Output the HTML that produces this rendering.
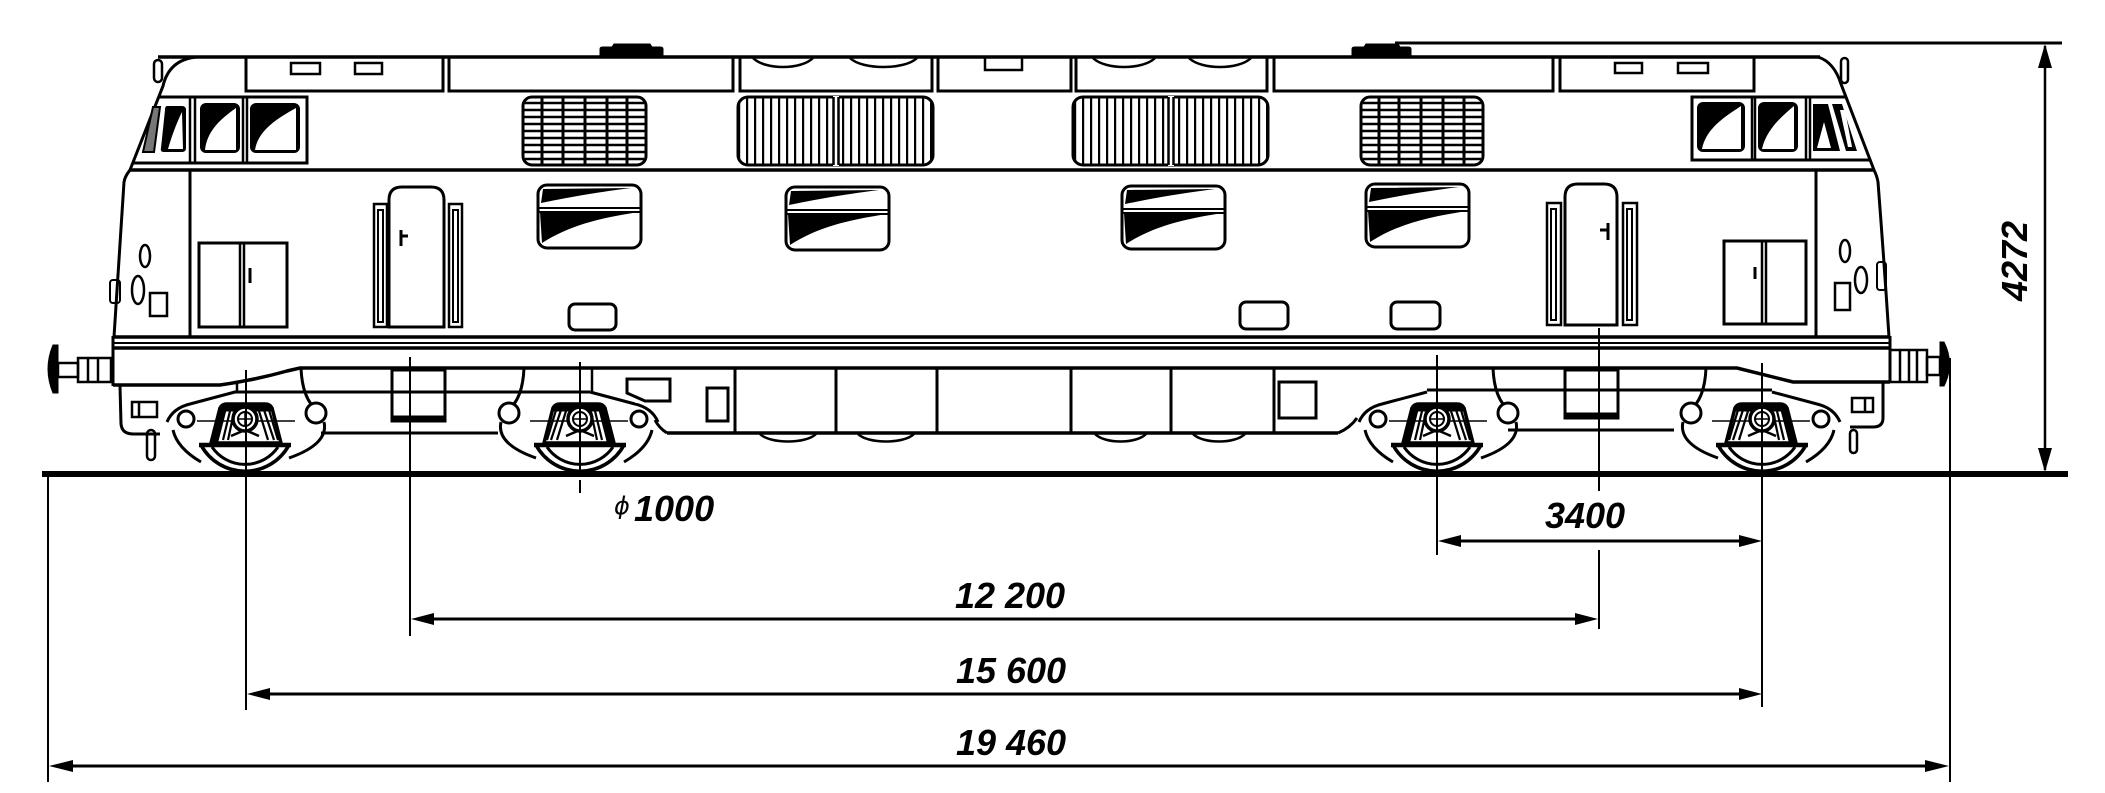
<!DOCTYPE html>
<html><head><meta charset="utf-8"><style>
html,body{margin:0;padding:0;background:#fff;}
svg{display:block}
.t{font-family:"Liberation Sans",Arial,sans-serif;font-weight:bold;font-style:italic;font-size:36px;fill:#000;}
</style></head><body>
<svg width="2105" height="793" viewBox="0 0 2105 793" xmlns="http://www.w3.org/2000/svg" xmlns:xlink="http://www.w3.org/1999/xlink">
<defs>
<pattern id="vb" x="2" y="0" width="8" height="20" patternUnits="userSpaceOnUse"><rect x="0" y="0" width="2.2" height="20" fill="#000"/></pattern>
<g id="wh" fill="none" stroke="#000" stroke-width="3">
 <path d="M-44,445 A50,50 0 0 0 44,445" stroke-width="3.5"/>
 <path d="M-33,447 A40,40 0 0 0 33,447" stroke-width="3"/>
 <line x1="-46" y1="445" x2="46" y2="445" stroke-width="4.5"/>
 <path d="M-34,443 L-25,408 Q-23,404 -18,404 L20,404 Q25,404 27,408 L36,443 Z" fill="#fff" stroke-width="3.5"/>
 <path d="M-24,410 L-21,405 L23,405 L26,410 Z" fill="#000"/>
 <path d="M-33,441 L-25,410 L-19,410 L-27,441 Z" fill="#000" stroke-width="1"/>
 <path d="M-22,440 L-15,411 M-17,440 L-11,412 M14,411 L23,440 M19,410 L29,440 M24,410 L33,440" stroke-width="2.2"/>
 <path d="M-14,436 L0,430 L14,436" stroke-width="2.5"/>
 <circle cx="0" cy="419" r="12" fill="#fff" stroke-width="3.5"/>
 <circle cx="0" cy="419" r="7" stroke-width="2"/>
 <path d="M-7,419 L7,419 M0,412 L0,426" stroke-width="1.5"/>
 <path d="M-48,421 L-13,421 M13,421 L50,421" stroke-width="1.5"/>
 <circle cx="-59" cy="419" r="8"/>
 <path d="M-78,422 Q-72,408 -55,404 L-10,392"/>
 <path d="M-72,430 Q-68,448 -44,462"/>
 <path d="M56,368 Q57,392 66,404"/>
 <circle cx="71" cy="413" r="10"/>
 <path d="M79,422 Q84,444 44,458"/>
</g>
</defs>
<rect width="2105" height="793" fill="#fff"/>

<g fill="none" stroke="#000" stroke-width="3">
<!-- roof -->
<line x1="158" y1="57" x2="1820" y2="57" stroke-width="3.5"/>
<path d="M600,56 L600,49 Q600,47 603,47 L660,47 Q663,47 663,49 L663,56 Z M612,47 L614,44 L650,44 L652,47 Z" fill="#000" stroke-width="1"/>
<path d="M1352,56 L1352,49 Q1352,47 1355,47 L1408,47 Q1411,47 1411,49 L1411,56 Z M1364,47 L1366,44 L1398,44 L1400,47 Z" fill="#000" stroke-width="1"/>
<!-- roof panels -->
<rect x="246" y="57" width="197" height="34"/>
<rect x="449" y="57" width="284" height="34"/>
<rect x="740" y="57" width="192" height="34"/>
<rect x="938" y="57" width="133" height="34"/>
<rect x="1076" y="57" width="191" height="34"/>
<rect x="1274" y="57" width="279" height="34"/>
<rect x="1560" y="57" width="194" height="34"/>
<rect x="291" y="63" width="29" height="11" stroke-width="2.5"/>
<rect x="355" y="63" width="27" height="11" stroke-width="2.5"/>
<rect x="1615" y="63" width="27" height="10" stroke-width="2.5"/>
<rect x="1678" y="63" width="30" height="10" stroke-width="2.5"/>
<rect x="985" y="57" width="37" height="13" stroke-width="2.5"/>
<path d="M753,58 C765,70 801,70 813,58 M850,58 C862,70 905,70 917,58 M1093,58 C1105,70 1143,70 1155,58 M1189,58 C1201,70 1239,70 1251,58" stroke-width="2.5"/>

<!-- cab ends -->
<rect x="154" y="60" width="8" height="22" rx="4" stroke-width="2.5"/>
<path d="M196,57 Q169,60 163,86 L130,170 Q125,176 124,182 Q119,260 114,337"/>
<rect x="1841" y="58" width="7" height="25" rx="3.5" stroke-width="2.5"/>
<path d="M1818,57 Q1834,62 1841,84 L1874,170 Q1877,176 1878,182 Q1884,260 1889,337"/>

<!-- left cab window band -->
<path d="M159,97 L307,97 L307,163 L133,163"/>
<path d="M190,97 L190,163 M195,97 L195,163 M243,97 L243,163 M247,97 L247,163" stroke-width="2.5"/>
<rect x="200" y="103" width="40" height="50" rx="6" fill="#000" stroke="none"/>
<path d="M205,150 C207,130 222,118 236,108 L236,150 Z" fill="#fff" stroke="none"/>
<rect x="250" y="103" width="50" height="50" rx="6" fill="#000" stroke="none"/>
<path d="M255,150 C258,130 278,118 296,108 L296,150 Z" fill="#fff" stroke="none"/>
<path d="M153,107 L160,107 L154,152 L143,152 Z" fill="#777" stroke-width="2"/>
<path d="M167,106 L182,106 Q186,106 186,110 L186,148 Q186,152 182,152 L164,152 Q160,152 161,148 L165,110 Q165,106 167,106 Z" fill="#000" stroke="none"/>
<path d="M168,149 C172,135 177,122 182,112 L183,149 Z" fill="#fff" stroke="none"/>

<!-- right cab window band -->
<path d="M1846,97 L1692,97 L1692,160 L1870,160"/>
<path d="M1752,97 L1752,160 M1755,97 L1755,160 M1806,97 L1806,160 M1810,97 L1810,160" stroke-width="2.5"/>
<rect x="1697" y="102" width="48" height="50" rx="6" fill="#000" stroke="none"/>
<path d="M1702,149 C1706,128 1726,116 1741,106 L1741,149 Z" fill="#fff" stroke="none"/>
<rect x="1758" y="102" width="40" height="50" rx="6" fill="#000" stroke="none"/>
<path d="M1762,149 C1766,130 1782,116 1794,106 L1794,149 Z" fill="#fff" stroke="none"/>
<path d="M1813,104 L1828,104 L1840,151 L1813,151 Z" fill="#000" stroke="none"/>
<path d="M1817,148 L1824,122 L1831,148 Z" fill="#fff" stroke="none"/>
<path d="M1832,104 L1842,104 L1857,151 L1846,151 Z" fill="#000" stroke="none"/>
<path d="M1840,110 L1845,110 L1852,147 L1848,147 Z" fill="#fff" stroke="none"/>

<!-- grilles horizontal -->
<rect x="523" y="97" width="123" height="68" rx="9"/>
<path d="M525,103 L644,103 M524,110 L645,110 M524,117 L645,117 M524,124 L645,124 M524,131 L645,131 M524,138 L645,138 M524,145 L645,145 M524,152 L645,152 M525,159 L644,159" stroke-width="2.5"/>
<path d="M542,97 L542,165 M563,97 L563,165 M585,97 L585,165 M607,97 L607,165 M627,97 L627,165" stroke-width="3"/>
<rect x="1361" y="97" width="122" height="68" rx="9"/>
<path d="M1363,103 L1481,103 M1362,110 L1482,110 M1362,117 L1482,117 M1362,124 L1482,124 M1362,131 L1482,131 M1362,138 L1482,138 M1362,145 L1482,145 M1362,152 L1482,152 M1363,159 L1481,159" stroke-width="2.5"/>
<path d="M1379,97 L1379,165 M1399,97 L1399,165 M1421,97 L1421,165 M1443,97 L1443,165 M1464,97 L1464,165" stroke-width="3"/>
<!-- grilles vertical -->
<rect x="738" y="97" width="195" height="68" rx="10" fill="url(#vb)"/>
<rect x="833" y="96" width="6" height="70" fill="#fff" stroke="none"/>
<path d="M833.5,97 L833.5,165 M838.5,97 L838.5,165" stroke-width="2.5"/>
<rect x="1073" y="97" width="195" height="68" rx="10" fill="url(#vb)"/>
<rect x="1168" y="96" width="6" height="70" fill="#fff" stroke="none"/>
<path d="M1168.5,97 L1168.5,165 M1173.5,97 L1173.5,165" stroke-width="2.5"/>

<!-- belt line -->
<line x1="129" y1="170" x2="1874" y2="170" stroke-width="3.5"/>
<line x1="190" y1="170" x2="190" y2="337"/>
<line x1="1816" y1="170" x2="1816" y2="337"/>

<!-- side windows -->
<g id="sw">
<rect x="538" y="185" width="103" height="63" rx="9"/>
<path d="M543,189 L631,188 C600,192 575,196 541,203 Z" fill="#000" stroke="none"/>
<path d="M540,212 L639,212 C600,218 570,225 542,243 Z" fill="#000" stroke="none"/>
<path d="M538,208 L641,208 M538,212 L641,212" stroke-width="2"/>
</g>
<use xlink:href="#sw" transform="translate(248,2)"/>
<use xlink:href="#sw" transform="translate(584,1)"/>
<use xlink:href="#sw" transform="translate(828,-1)"/>

<!-- small rounded rects -->
<rect x="569" y="304" width="47" height="26" rx="6"/>
<rect x="1240" y="302" width="48" height="27" rx="6"/>
<rect x="1391" y="302" width="49" height="27" rx="6"/>

<!-- left door & panel -->
<path d="M389,327 L389,200 Q389,187 402,187 L431,187 Q444,187 444,200 L444,327 Z"/>
<rect x="374" y="204" width="13" height="123" stroke-width="2.5"/>
<rect x="378" y="210" width="5" height="112" stroke-width="2"/>
<rect x="449" y="204" width="13" height="123" stroke-width="2.5"/>
<rect x="453" y="210" width="5" height="112" stroke-width="2"/>
<path d="M401,230 L401,246 M401,236 L408,236"/>
<rect x="199" y="243" width="88" height="84"/>
<path d="M240,243 L240,327 M244,243 L244,327" stroke-width="2.5"/>
<line x1="250" y1="268" x2="250" y2="283"/>
<!-- right door & panel -->
<path d="M1565,325 L1565,197 Q1565,184 1578,184 L1604,184 Q1617,184 1617,197 L1617,325 Z"/>
<rect x="1547" y="203" width="14" height="122" stroke-width="2.5"/>
<rect x="1551" y="209" width="5" height="111" stroke-width="2"/>
<rect x="1623" y="203" width="14" height="122" stroke-width="2.5"/>
<rect x="1627" y="209" width="5" height="111" stroke-width="2"/>
<path d="M1608,223 L1608,240 M1600,230 L1608,230"/>
<rect x="1724" y="241" width="82" height="83"/>
<path d="M1762,241 L1762,324 M1766,241 L1766,324" stroke-width="2.5"/>
<line x1="1755" y1="267" x2="1755" y2="279"/>

<!-- lamps -->
<ellipse cx="145" cy="256" rx="5" ry="11" stroke-width="2.5"/>
<ellipse cx="138" cy="290" rx="6" ry="14" stroke-width="2.5"/>
<rect x="150" y="293" width="17" height="23" stroke-width="2.5"/>
<rect x="110" y="280" width="10" height="23" rx="3" stroke-width="2"/>
<ellipse cx="1845" cy="251" rx="5" ry="11" stroke-width="2.5"/>
<ellipse cx="1861" cy="280" rx="6" ry="13" stroke-width="2.5"/>
<rect x="1835" y="283" width="15" height="27" stroke-width="2.5"/>
<rect x="1877" y="262" width="9" height="28" rx="3" stroke-width="2"/>

<!-- frame -->
<line x1="113" y1="337" x2="1890" y2="337" stroke-width="3.5"/>
<line x1="113" y1="343" x2="1890" y2="343" stroke-width="2"/>
<line x1="113" y1="348" x2="1890" y2="348" stroke-width="3.5"/>
<line x1="113" y1="336" x2="113" y2="386"/>
<line x1="1890" y1="336" x2="1890" y2="383"/>

<!-- buffers -->
<rect x="58" y="363" width="20" height="14" stroke-width="2.5"/>
<rect x="78" y="358" width="33" height="24" stroke-width="2.5"/>
<path d="M88,358 L88,382 M98,358 L98,382" stroke-width="2.5"/>
<path d="M58,345 L53,345 Q43,369 53,393 L58,393 Z" fill="#000" stroke-width="1"/>
<rect x="1890" y="350" width="37" height="32" stroke-width="2.5"/>
<path d="M1900,350 L1900,382 M1909,350 L1909,382 M1917,350 L1917,382" stroke-width="2.5"/>
<rect x="1927" y="357" width="13" height="18" stroke-width="2.5"/>
<path d="M1940,342 L1944,342 Q1955,364 1944,386 L1940,386 Z" fill="#000" stroke-width="1"/>

<!-- underframe -->
<path d="M113,385 L220,385 Q255,380 287,371 L300,368 L1737,368 L1793,382 L1890,382" stroke-width="3.5"/>
<path d="M120,386 L121,424 Q122,434 133,434 L160,434"/>
<rect x="147" y="430" width="8" height="30" rx="4" stroke-width="2.5"/>
<rect x="132" y="402" width="25" height="15" stroke-width="2.5"/>
<line x1="139" y1="402" x2="139" y2="417" stroke-width="2.5"/>
<path d="M1883,383 L1883,418 Q1883,427 1873,427 L1850,427"/>
<rect x="1850" y="430" width="7" height="23" rx="3.5" stroke-width="2.5"/>
<rect x="1852" y="398" width="21" height="14" stroke-width="2.5"/>
<line x1="1865" y1="398" x2="1865" y2="412" stroke-width="2.5"/>

<line x1="234" y1="392" x2="590" y2="392"/>
<line x1="1427" y1="390" x2="1772" y2="390"/>
<line x1="237" y1="383" x2="237" y2="392" stroke-width="2.5"/>
<line x1="592" y1="369" x2="592" y2="392" stroke-width="2.5"/>
<line x1="321" y1="433" x2="498" y2="433"/>
<line x1="1508" y1="430" x2="1674" y2="430"/>
<line x1="667" y1="433" x2="1338" y2="433" stroke-width="3.5"/>
<path d="M667,433 Q659,428 655,420"/>
<path d="M1338,433 Q1350,428 1357,418"/>
<path d="M735,368 L735,433 M836,368 L836,433 M937,368 L937,433 M1071,368 L1071,433 M1171,368 L1171,433 M1274,368 L1274,433"/>
<path d="M627,379 L670,379 L670,401 L645,401 L627,393 Z"/>
<rect x="707" y="388" width="21" height="33"/>
<rect x="1279" y="382" width="37" height="36"/>
<path d="M760,434 C770,444 806,444 816,434 M858,434 C868,444 904,444 914,434 M1095,434 C1105,444 1136,444 1146,434 M1193,434 C1203,444 1235,444 1245,434" stroke-width="2.5"/>
<rect x="392" y="370" width="53" height="51"/>
<line x1="392" y1="418" x2="445" y2="418" stroke-width="5"/>
<rect x="1565" y="370" width="53" height="48"/>
<line x1="1565" y1="415" x2="1618" y2="415" stroke-width="5"/>
</g>

<!-- wheels -->
<use xlink:href="#wh" transform="translate(245,0)"/>
<use xlink:href="#wh" transform="translate(580,0) scale(-1,1)"/>
<use xlink:href="#wh" transform="translate(1437,0)"/>
<use xlink:href="#wh" transform="translate(1762,0) scale(-1,1)"/>

<!-- ground & dimensions -->
<g stroke="#000" fill="none">
<line x1="42" y1="474" x2="2068" y2="474" stroke-width="6"/>
<line x1="1395" y1="43" x2="2062" y2="43" stroke-width="3"/>
<line x1="2045" y1="46" x2="2045" y2="470" stroke-width="2.5"/>
<g stroke-width="2">
<line x1="48" y1="474" x2="48" y2="782"/>
<line x1="246" y1="370" x2="246" y2="710"/>
<line x1="410" y1="357" x2="410" y2="636"/>
<line x1="580" y1="362" x2="580" y2="476"/>
<line x1="580" y1="480" x2="580" y2="493"/>
<line x1="1437" y1="355" x2="1437" y2="555"/>
<line x1="1599" y1="328" x2="1599" y2="491"/>
<line x1="1599" y1="550" x2="1599" y2="629"/>
<line x1="1762" y1="363" x2="1762" y2="707"/>
<line x1="1950" y1="358" x2="1950" y2="782"/>
</g>
<g stroke-width="3">
<line x1="1450" y1="541" x2="1750" y2="541"/>
<line x1="420" y1="619" x2="1590" y2="619"/>
<line x1="256" y1="694" x2="1752" y2="694"/>
<line x1="58" y1="766" x2="1940" y2="766"/>
</g>
</g>
<g fill="#000">
<polygon points="2045,44 2038,68 2052,68"/>
<polygon points="2045,472 2038,448 2052,448"/>
<polygon points="1438,541 1461,535 1461,547"/>
<polygon points="1762,541 1739,535 1739,547"/>
<polygon points="411,619 434,613 434,625"/>
<polygon points="1598,619 1575,613 1575,625"/>
<polygon points="247,694 270,688 270,700"/>
<polygon points="1762,694 1739,688 1739,700"/>
<polygon points="49,766 73,760 73,772"/>
<polygon points="1949,766 1925,760 1925,772"/>
</g>

<text class="t" x="1010" y="608" text-anchor="middle">12 200</text>
<text class="t" x="1011" y="683" text-anchor="middle">15 600</text>
<text class="t" x="1011" y="755" text-anchor="middle">19 460</text>
<text class="t" x="1585" y="528" text-anchor="middle">3400</text>
<text x="614" y="514" style="font-family:'DejaVu Sans','Liberation Sans',sans-serif;font-size:24px;font-style:italic;fill:#000">ϕ</text>
<text class="t" x="634" y="521">1000</text>
<text class="t" transform="translate(2027,261) rotate(-90)" text-anchor="middle">4272</text>
</svg>
</body></html>
